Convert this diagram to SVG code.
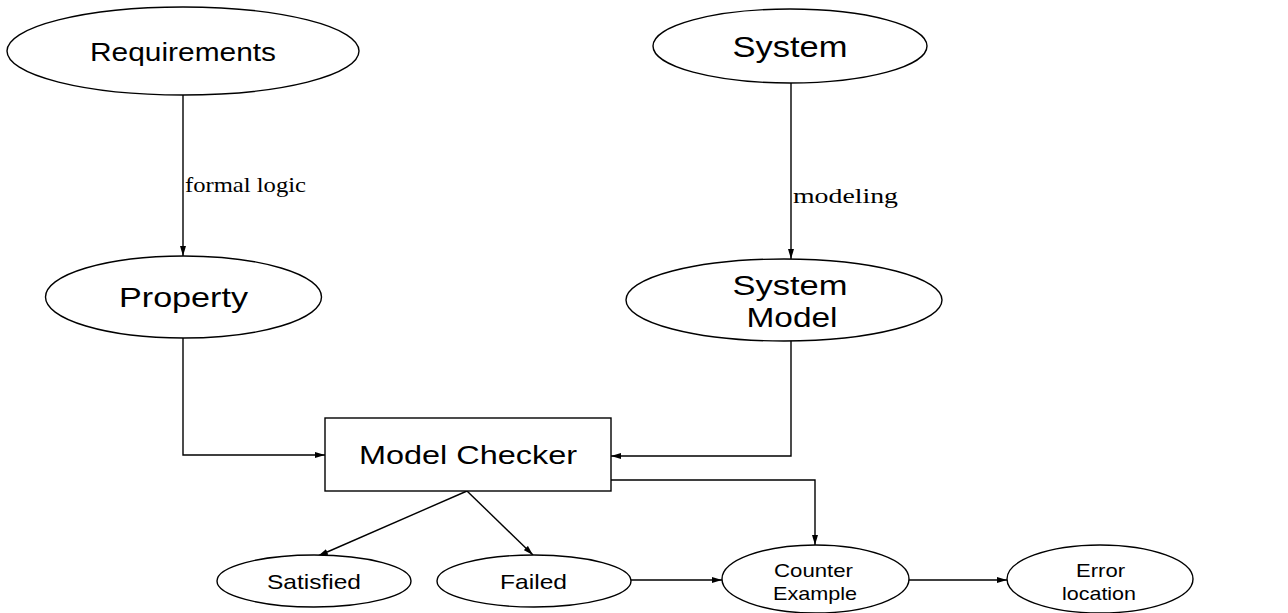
<svg xmlns="http://www.w3.org/2000/svg" width="1288" height="613" viewBox="0 0 1288 613">
  <style>
    .shape { fill: #ffffff; stroke: #000000; stroke-width: 1.4; }
    .edge { fill: none; stroke: #000000; stroke-width: 1.4; marker-end: url(#arrow); }
    .lbl { font-family: "Liberation Sans", Arial, sans-serif; fill: #000000; text-anchor: middle; }
    .elbl { font-family: "Liberation Serif", "Times New Roman", serif; fill: #000000; }
  </style>
  <defs>
    <marker id="arrow" viewBox="0 0 10 6" refX="10" refY="3" markerWidth="10" markerHeight="6" markerUnits="userSpaceOnUse" orient="auto">
      <path d="M0,0 L10,3 L0,6 Z" fill="#000000"/>
    </marker>
  </defs>
  <rect width="1288" height="613" fill="#ffffff"/>

  <g id="connectors">
    <path class="edge" d="M183,95 L183,256"/>
    <path class="edge" d="M791,83 L791,259"/>
    <path class="edge" d="M183,337 L183,455 L325,455"/>
    <path class="edge" d="M791,340 L791,456 L611,456"/>
    <path class="edge" d="M611,480 L815,480 L815,545"/>
    <path class="edge" d="M467,491 L318,556"/>
    <path class="edge" d="M467,491 L533,555"/>
    <path class="edge" d="M631,580 L722,580"/>
    <path class="edge" d="M909,580 L1007,580"/>
    <text class="elbl" x="185" y="192" font-size="22" textLength="121" lengthAdjust="spacingAndGlyphs">formal logic</text>
    <text class="elbl" x="793" y="203" font-size="22" textLength="105" lengthAdjust="spacingAndGlyphs">modeling</text>
  </g>

  <g id="requirements">
    <ellipse class="shape" cx="183" cy="51" rx="176" ry="44"/>
    <text class="lbl" x="183" y="61" font-size="25" textLength="186" lengthAdjust="spacingAndGlyphs">Requirements</text>
  </g>

  <g id="system">
    <ellipse class="shape" cx="790" cy="46" rx="137" ry="37"/>
    <text class="lbl" x="790" y="57" font-size="30" textLength="115" lengthAdjust="spacingAndGlyphs">System</text>
  </g>

  <g id="property">
    <ellipse class="shape" cx="183.5" cy="297" rx="138" ry="41"/>
    <text class="lbl" x="183.5" y="307" font-size="28" textLength="129" lengthAdjust="spacingAndGlyphs">Property</text>
  </g>

  <g id="system-model">
    <ellipse class="shape" cx="784" cy="300" rx="158" ry="41"/>
    <text class="lbl" x="790" y="295" font-size="27" textLength="115" lengthAdjust="spacingAndGlyphs">System</text>
    <text class="lbl" x="792" y="327" font-size="27" textLength="91" lengthAdjust="spacingAndGlyphs">Model</text>
  </g>

  <g id="model-checker">
    <rect class="shape" x="325" y="418" width="286" height="73"/>
    <text class="lbl" x="468" y="464" font-size="26" textLength="218" lengthAdjust="spacingAndGlyphs">Model Checker</text>
  </g>

  <g id="satisfied">
    <ellipse class="shape" cx="314" cy="581" rx="97" ry="26"/>
    <text class="lbl" x="314" y="589" font-size="21" textLength="94" lengthAdjust="spacingAndGlyphs">Satisfied</text>
  </g>

  <g id="failed">
    <ellipse class="shape" cx="534" cy="581" rx="97" ry="26"/>
    <text class="lbl" x="533.5" y="589" font-size="21" textLength="67" lengthAdjust="spacingAndGlyphs">Failed</text>
  </g>

  <g id="counter-example">
    <ellipse class="shape" cx="815.5" cy="579" rx="93.5" ry="34"/>
    <text class="lbl" x="813.5" y="577" font-size="19" textLength="79" lengthAdjust="spacingAndGlyphs">Counter</text>
    <text class="lbl" x="815" y="600" font-size="19" textLength="84" lengthAdjust="spacingAndGlyphs">Example</text>
  </g>

  <g id="error-location">
    <ellipse class="shape" cx="1100" cy="579" rx="93" ry="34"/>
    <text class="lbl" x="1100.5" y="577" font-size="19" textLength="49" lengthAdjust="spacingAndGlyphs">Error</text>
    <text class="lbl" x="1099" y="600" font-size="19" textLength="74" lengthAdjust="spacingAndGlyphs">location</text>
  </g>
</svg>
